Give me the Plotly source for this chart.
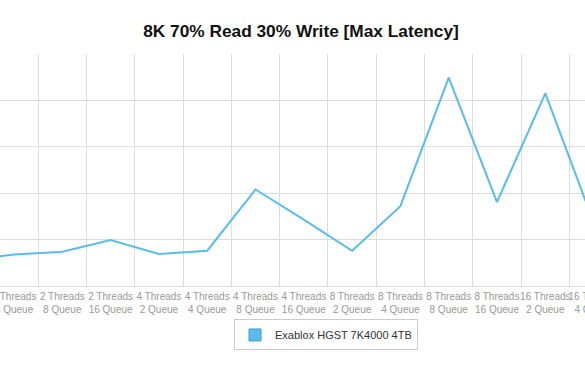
import plotly.graph_objects as go

categories = [
    "2 Threads<br>2 Queue", "2 Threads<br>4 Queue", "2 Threads<br>8 Queue", "2 Threads<br>16 Queue",
    "4 Threads<br>2 Queue", "4 Threads<br>4 Queue", "4 Threads<br>8 Queue", "4 Threads<br>16 Queue",
    "8 Threads<br>2 Queue", "8 Threads<br>4 Queue", "8 Threads<br>8 Queue", "8 Threads<br>16 Queue",
    "16 Threads<br>2 Queue", "16 Threads<br>4 Queue",
]
max_latency = [55, 68, 74, 99, 69, 76, 208, 143, 76, 172, 449, 181, 415, 137]
series_name = "Exablox HGST 7K4000 4TB"

line_color = "#57bdec"
font_family = "Liberation Sans, Arial, Helvetica, sans-serif"

W = 640  # figure is wider than the 585px window; the right part is cut off like in the reference

fig = go.Figure()
fig.add_trace(go.Scatter(
    x=categories, y=max_latency, mode="lines",
    line=dict(color=line_color, width=2),
    showlegend=False, hoverinfo="x+y",
))
# legend entry with a square swatch
fig.add_trace(go.Scatter(
    x=[None], y=[None], mode="markers", name=series_name,
    marker=dict(symbol="square", size=12, color=line_color,
                line=dict(color="#3a9fd0", width=1)),
))

fig.update_layout(
    width=W, height=375,
    margin=dict(l=0, r=0, t=54, b=88.5, autoexpand=False),
    paper_bgcolor="white", plot_bgcolor="white",
    font=dict(family=font_family),
    title=dict(text="<b>8K 70% Read 30% Write [Max Latency]</b>",
               x=301/W, xanchor="center", y=1-30.5/375, yanchor="middle",
               font=dict(size=17.3, color="#111111", family=font_family)),
    legend=dict(orientation="h", x=234/W, xanchor="left", y=-0.211, yanchor="middle",
                bordercolor="#cccccc", borderwidth=1,
                font=dict(size=11, color="#333333")),
)
fig.update_xaxes(
    type="category", categoryorder="array", categoryarray=categories,
    range=[0.71, 0.71 + W/48.3], tickson="boundaries", ticks="",
    showgrid=True, gridcolor="#dddddd", gridwidth=1,
    tickangle=0, ticklabeloverflow="allow", automargin=False,
    ticklabelstandoff=3,
    tickfont=dict(size=10, color="#999999"),
    showline=False, zeroline=False,
)
fig.update_yaxes(
    range=[0, 500], dtick=100, showticklabels=False, automargin=False,
    showgrid=True, gridcolor="#dddddd", gridwidth=1,
    zeroline=True, zerolinecolor="#dddddd", zerolinewidth=1,
    showline=False,
)

fig.write_html(
    "out.html",
    config={"displayModeBar": False},
    post_script="document.body.style.margin='0';document.body.style.overflow='hidden';",
)
